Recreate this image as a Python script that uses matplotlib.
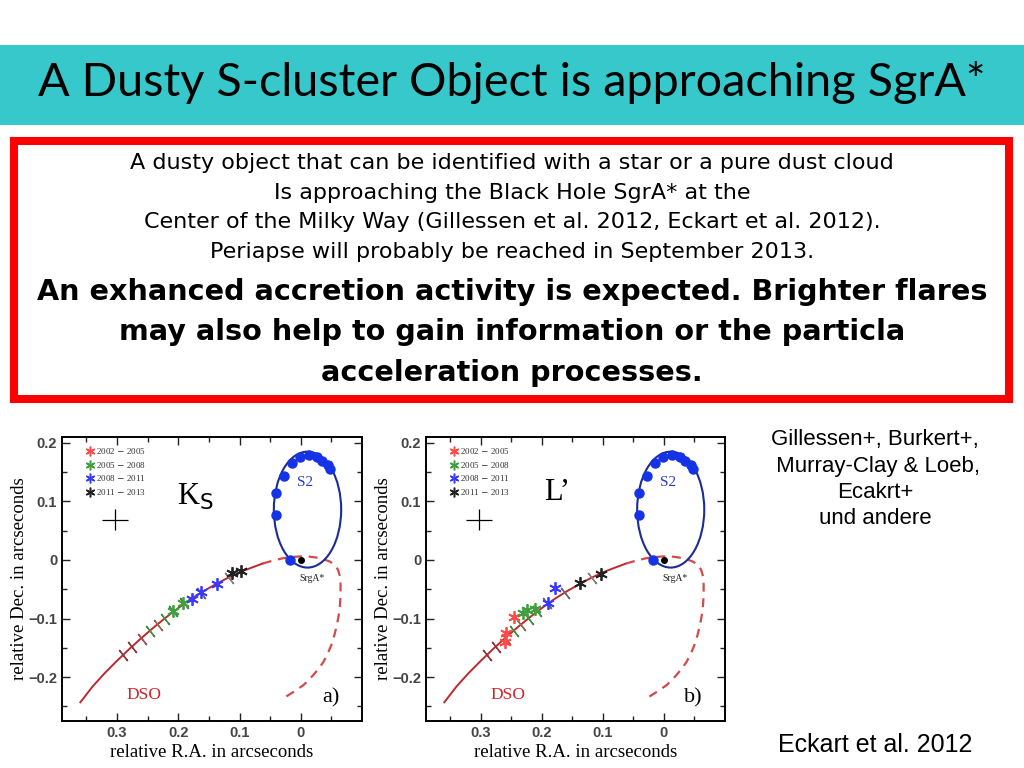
import matplotlib
matplotlib.use("Agg")
import matplotlib.pyplot as plt
from matplotlib.patches import Rectangle, Ellipse

# Slide texts
title = "A Dusty S-cluster Object is approaching SgrA*"
intro_lines = [
    "A dusty object that can be identified with a star or a pure dust cloud",
    "Is approaching the Black Hole SgrA* at the",
    "Center of the Milky Way (Gillessen et al. 2012, Eckart et al. 2012).",
    "Periapse will probably be reached in September 2013.",
]
bold_lines = [
    "An exhanced accretion activity is expected. Brighter flares",
    "may also help to gain information or the particla",
    "acceleration processes.",
]
refs_lines = ["Gillessen+, Burkert+,", " Murray-Clay & Loeb,", "Ecakrt+", "und andere"]
source = "Eckart et al. 2012"

# DSO orbit (relative R.A., relative Dec. in arcsec)
dso_solid_x = [0.360, 0.340, 0.320, 0.300, 0.280, 0.260, 0.240, 0.220, 0.200, 0.180,
               0.160, 0.140, 0.120, 0.100, 0.080, 0.062]
dso_solid_y = [-0.243, -0.216, -0.193, -0.172, -0.152, -0.133, -0.115, -0.098, -0.082, -0.067,
               -0.054, -0.042, -0.031, -0.021, -0.013, -0.006]
dso_dash_x = [0.062, 0.045, 0.029, 0.015, 0.002, -0.012, -0.026, -0.038, -0.048, -0.056, -0.061,
              -0.064, -0.065, -0.065, -0.064, -0.062, -0.059, -0.055, -0.050, -0.044, -0.037,
              -0.029, -0.020, -0.012, -0.004, 0.010, 0.025]
dso_dash_y = [-0.006, -0.001, 0.003, 0.005, 0.006, 0.006, 0.004, 0.001, -0.003, -0.009, -0.017,
              -0.028, -0.043, -0.060, -0.077, -0.094, -0.111, -0.128, -0.145, -0.160, -0.174,
              -0.186, -0.197, -0.206, -0.214, -0.224, -0.234]

# epoch ticks along the orbit
tick_x = [0.290, 0.275, 0.259, 0.246, 0.234, 0.222, 0.208, 0.191, 0.163, 0.118]
tick_y = [-0.162, -0.148, -0.135, -0.122, -0.111, -0.100, -0.087, -0.074, -0.056, -0.030]
tick_colors = ["#8b3a3a", "#8b3a3a", "#a05050", "#3f8f3f", "#8b6a50", "#3f8f3f", "#3f8f3f",
               "#6a6a6a", "#6a6a6a", "#808080"]

# S2 orbit
s2_center = (-0.011, 0.086)
s2_width = 0.110
s2_height = 0.198
s2_dots_x = [0.041, 0.041, 0.028, 0.015, 0.002, -0.013, -0.026, -0.034, -0.044, -0.048, 0.018]
s2_dots_y = [0.115, 0.077, 0.144, 0.166, 0.176, 0.179, 0.176, 0.169, 0.162, 0.156, 0.000]

# measured DSO positions per period
periods = ["2002 $-$ 2005", "2005 $-$ 2008", "2008 $-$ 2011", "2011 $-$ 2013"]
period_colors = ["#ff4a4a", "#3ea03e", "#3a3aff", "#222222"]

ks_x = [[], [0.208, 0.193], [0.178, 0.163, 0.137], [0.113, 0.097]]
ks_y = [[], [-0.087, -0.073], [-0.066, -0.054, -0.041], [-0.023, -0.018]]

lp_x = [[0.246, 0.259, 0.261], [0.231, 0.224, 0.211], [0.190, 0.179], [0.137, 0.103]]
lp_y = [[-0.098, -0.125, -0.140], [-0.090, -0.085, -0.084], [-0.073, -0.048], [-0.040, -0.024]]

xticks = [0.3, 0.2, 0.1, 0.0]
xtick_labels = ["0.3", "0.2", "0.1", "0"]
yticks = [0.2, 0.1, 0.0, -0.1, -0.2]
ytick_labels = ["0.2", "0.1", "0", "\u22120.1", "\u22120.2"]

serif = "Liberation Serif"
sans = "Liberation Sans"
box_font = "DejaVu Sans"

fig = plt.figure(figsize=(10.24, 7.68), dpi=100)

# title band
fig.patches.append(Rectangle((0, 1 - 125 / 768), 1, 80 / 768, transform=fig.transFigure,
                             facecolor="#37c8cb", edgecolor="none", zorder=0))
fig.text(0.5, 1 - 82 / 768, title, ha="center", va="center", family="Lato", fontsize=33.7, color="black")

# red box
fig.patches.append(Rectangle((14 / 1024, 1 - 399 / 768), 995 / 1024, 258 / 768, transform=fig.transFigure,
                             facecolor="white", edgecolor="#ff0000", linewidth=5.8, zorder=0))
for i, line in enumerate(intro_lines):
    fig.text(0.5, 1 - (163 + 29.7 * i) / 768, line, ha="center", va="center", family=box_font, fontsize=16)
for i, line in enumerate(bold_lines):
    fig.text(0.5, 1 - (292 + 40.5 * i) / 768, line, ha="center", va="center", family=box_font,
             fontsize=20.6, fontweight="bold")

# references on the right
for i, line in enumerate(refs_lines):
    fig.text(875 / 1024, 1 - (440 + 26.3 * i) / 768, line, ha="center", va="center", family=sans, fontsize=16)
fig.text(875 / 1024, 1 - 745 / 768, source, ha="center", va="center", family=sans, fontsize=18)


def draw_panel(ax, obs_x, obs_y, band, letter):
    ax.plot(dso_solid_x, dso_solid_y, color="#c0282d", lw=1.4, zorder=2)
    ax.plot(dso_dash_x, dso_dash_y, color="#d24a4a", lw=1.6, ls=(0, (4, 3)), zorder=2)
    for x, y, c in zip(tick_x, tick_y, tick_colors):
        ax.plot(x, y, marker=(2, 2, 38), markersize=10, mew=1.0, color=c, zorder=3)

    ax.add_patch(Ellipse(s2_center, s2_width, s2_height, fill=False, edgecolor="#1c2c96", lw=1.5, zorder=2))
    ax.plot(s2_dots_x, s2_dots_y, "o", color="#1432e6", markersize=6.5, zorder=4)
    ax.plot([0], [0], "o", color="black", markersize=4, zorder=4)
    ax.text(-0.018, -0.031, "SrgA*", family=serif, fontsize=7, ha="center", va="center", color="#222222")
    ax.text(-0.007, 0.133, "S2", family=serif, fontsize=11, ha="center", va="center", color="#2a3ac8")
    ax.text(0.256, -0.231, "DSO", family=serif, fontsize=12.5, ha="center", va="center", color="#d0202a")

    for xs, ys, c in zip(obs_x, obs_y, period_colors):
        ax.plot(xs, ys, ls="none", marker=(6, 2, 0), markersize=9, mew=1.3, color=c, zorder=5)

    # period key
    for i, (lab, c) in enumerate(zip(periods, period_colors)):
        yf = 0.951 - 0.0485 * i
        ax.plot([0.093], [yf], transform=ax.transAxes, marker=(6, 2, 0), markersize=7, mew=1.1, color=c)
        ax.text(0.115, yf, lab, transform=ax.transAxes, family=serif, fontsize=6.5, va="center", color="#333333")

    ax.text(band[1], band[2], band[0], transform=ax.transAxes, family=serif, fontsize=22, ha="center", va="center")
    ax.errorbar([0.303], [0.069], xerr=[0.021], yerr=[0.018], color="black", lw=0.9, capsize=0)
    ax.text(0.895, 0.08, letter, transform=ax.transAxes, family=serif, fontsize=16, ha="center", va="center")

    ax.set_xlim(0.39, -0.1)
    ax.set_ylim(-0.275, 0.21)
    ax.set_xticks(xticks, xtick_labels)
    ax.set_yticks(yticks, ytick_labels)
    ax.set_xticks([0.35, 0.25, 0.15, 0.05, -0.05], minor=True)
    ax.set_yticks([0.15, 0.05, -0.05, -0.15, -0.25], minor=True)
    ax.tick_params(which="both", direction="in", top=True, right=True, width=1.0, colors="#222222",
                   labelsize=10.5, labelcolor="#444444")
    ax.tick_params(which="major", length=6)
    ax.tick_params(which="minor", length=3.5)
    for lab in ax.get_xticklabels() + ax.get_yticklabels():
        lab.set_family(sans)
        lab.set_fontweight("bold")
    for sp in ax.spines.values():
        sp.set_linewidth(1.4)
    ax.set_xlabel("relative R.A. in arcseconds", family=serif, fontsize=13.5, labelpad=3)
    ax.set_ylabel("relative Dec. in arcseconds", family=serif, fontsize=13.5, labelpad=0)


ax1 = fig.add_axes([62 / 1024, 47 / 768, 300 / 1024, 284 / 768])
ax2 = fig.add_axes([426 / 1024, 47 / 768, 299 / 1024, 284 / 768])
draw_panel(ax1, ks_x, ks_y, ("K$_\\mathrm{S}$", 0.443, 0.789), "a)")
draw_panel(ax2, lp_x, lp_y, ("L\u2019", 0.438, 0.806), "b)")

fig.savefig("out.png", dpi=100)
